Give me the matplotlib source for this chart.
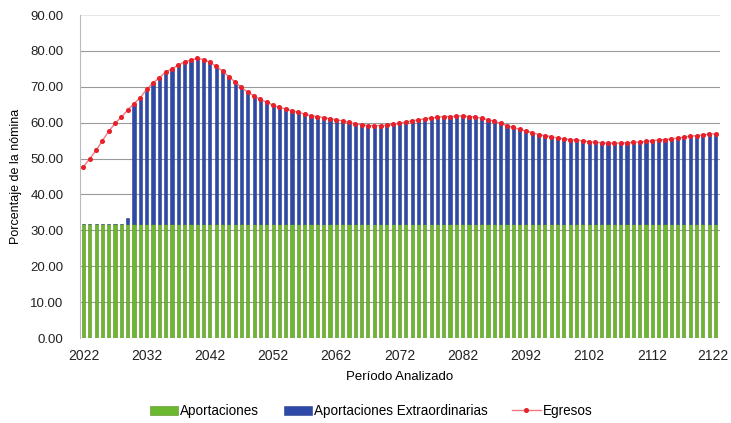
import numpy as np
import matplotlib.pyplot as plt
import matplotlib.transforms as mtransforms

plt.rcParams['font.family'] = ['Liberation Sans', 'DejaVu Sans']

years = np.arange(2022, 2123)

egresos = [47.7, 50.0, 52.3, 55.0, 57.6, 59.8, 61.6, 63.5, 65.3, 67.0,
           69.3, 71.1, 72.5, 74.1, 75.0, 76.0, 77.0, 77.4, 77.9, 77.6,
           76.8, 75.7, 74.4, 72.8, 71.3, 69.8, 68.5, 67.4, 66.5, 65.7,
           64.9, 64.3, 63.8, 63.3, 62.9, 62.4, 61.9, 61.7, 61.4, 61.1,
           60.8, 60.5, 60.1, 59.7, 59.4, 59.2, 59.2, 59.2, 59.3, 59.5,
           59.9, 60.2, 60.5, 60.8, 61.1, 61.3, 61.5, 61.7, 61.7, 61.8,
           61.9, 61.7, 61.6, 61.2, 60.8, 60.4, 59.8, 59.2, 58.7, 58.1,
           57.7, 57.2, 56.7, 56.4, 56.1, 55.7, 55.5, 55.3, 55.2, 54.9,
           54.7, 54.5, 54.4, 54.3, 54.3, 54.3, 54.4, 54.5, 54.6, 54.8,
           55.0, 55.2, 55.3, 55.5, 55.7, 56.0, 56.2, 56.4, 56.6, 56.8,
           56.9]

aportaciones = [31.7] * 101

# extraordinarias: none before 2029, small tip in 2029, then the gap up to egresos
extra_2029 = 1.6
extraordinarias = [0.0] * 7 + [extra_2029] + [e - a for e, a in zip(egresos[8:], aportaciones[8:])]

fig = plt.figure(figsize=(7.31, 4.23), dpi=100)
ax = fig.add_axes([80 / 731, 1 - 338 / 423, 640 / 731, 323 / 423])

b1 = ax.bar(years, aportaciones, width=0.5, color='#6ab82e', edgecolor='#5f8a2a',
            linewidth=0.4, label='Aportaciones', zorder=2)
b2 = ax.bar(years, extraordinarias, width=0.5, bottom=aportaciones, color='#2e4aa8',
            edgecolor='#2a3f8a', linewidth=0.4, label='Aportaciones Extraordinarias', zorder=2)
l1, = ax.plot(years, egresos, color='#f07a80', linewidth=1.0, marker='o', markersize=2.6,
              markerfacecolor='#e8202a', markeredgecolor='#e8202a', label='Egresos', zorder=3)

ax.set_xlim(2021.45, 2122.71)
ax.set_ylim(0, 90)
ax.set_xticks(np.arange(2022, 2123, 10))
ax.set_yticks(np.arange(0, 91, 10))
ax.set_yticklabels([f'{v:.2f}' for v in np.arange(0, 91, 10)])
ax.tick_params(axis='y', length=0, labelsize=9.5, colors='#222222', pad=12)
ax.tick_params(axis='x', length=0, labelsize=10, colors='#222222', pad=8)
last = ax.get_xticklabels()[-1]
last.set_transform(last.get_transform() + mtransforms.ScaledTranslation(-3 / 100, 0, fig.dpi_scale_trans))

ax.grid(axis='y', color='#9a9a9a', linewidth=0.8, zorder=0)
ax.get_ygridlines()[-1].set_color('#e6e6e6')
for s in ['top', 'right', 'bottom']:
    ax.spines[s].set_visible(False)
ax.spines['left'].set_color('#bbbbbb')

ax.set_ylabel('Porcentaje de la nómina', fontsize=9, labelpad=6)
ax.set_xlabel('Período Analizado', fontsize=9.5, labelpad=6)

fig.legend(handles=[b1, b2, l1], loc='center', bbox_to_anchor=(371 / 731, 1 - 411 / 423),
           ncol=3, frameon=False, fontsize=9.75, handlelength=2.1, handleheight=0.6,
           columnspacing=1.8, handletextpad=0.15)

fig.savefig('out.png', dpi=100)
